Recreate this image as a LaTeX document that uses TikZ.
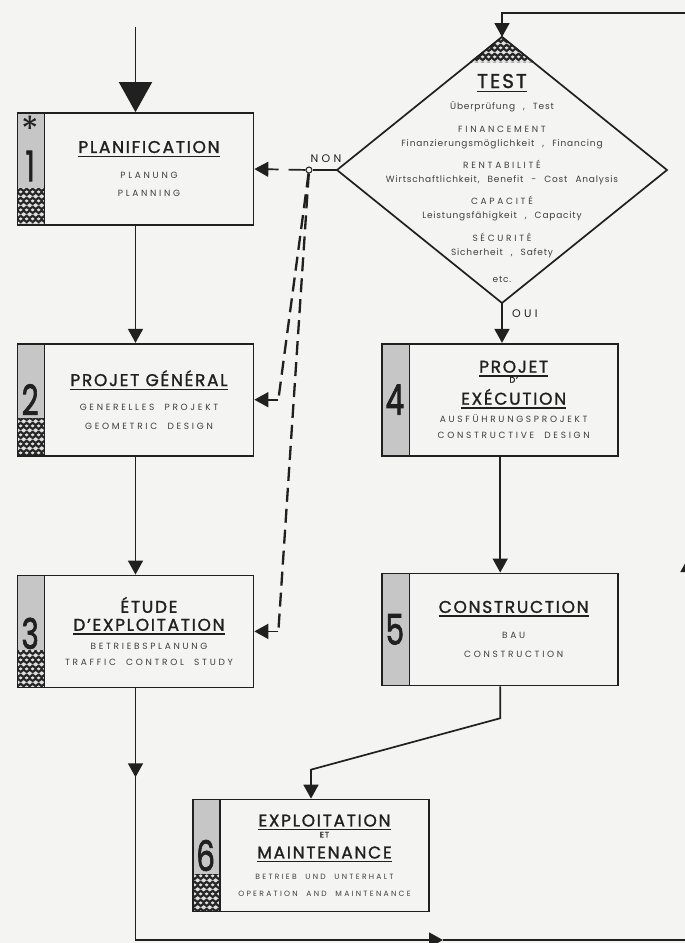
\documentclass[tikz,border=0pt]{standalone}
\usepackage{fontspec}
\setmainfont{Poppins}
\newfontfamily\ttlfont[FakeBold=1.4, LetterSpace=10]{Poppins}
\newfontfamily\numfont[FakeBold=2]{Poppins}
\newfontfamily\subfont[LetterSpace=30, WordSpace=2]{Poppins}
\newfontfamily\lowfont[LetterSpace=9, WordSpace=2.5]{Poppins}
\usetikzlibrary{shapes.geometric,arrows.meta,positioning,calc,patterns.meta}
\definecolor{paper}{RGB}{244,244,242}
\definecolor{ink}{RGB}{32,32,32}
\definecolor{strip}{RGB}{198,198,198}
\definecolor{subink}{RGB}{62,62,62}

\newcommand{\ttl}[1]{\vtop{\hbox{#1}\kern2.5pt\hrule height 1.3pt}}
\newcommand{\sub}{\subfont\fontsize{9}{18}\selectfont\color{subink}}
\newcommand{\subsm}{\subfont\fontsize{7.6}{18}\selectfont\color{subink}}
\newcommand{\low}{\lowfont\fontsize{9}{14}\selectfont\color{subink}}

\tikzdeclarepattern{
  name=honey,
  type=colored,
  bottom left={(0pt,0pt)},
  top right={(6pt,9pt)},
  tile size={(6pt,9pt)},
  code={
    \fill[black!85] (0pt,0pt) rectangle (6pt,9pt);
    \fill[black!12] (3pt,4.5pt) ellipse [x radius=2.2pt, y radius=1.7pt];
    \fill[black!12] (0pt,0pt) ellipse [x radius=2.2pt, y radius=1.7pt];
    \fill[black!12] (6pt,0pt) ellipse [x radius=2.2pt, y radius=1.7pt];
    \fill[black!12] (0pt,9pt) ellipse [x radius=2.2pt, y radius=1.7pt];
    \fill[black!12] (6pt,9pt) ellipse [x radius=2.2pt, y radius=1.7pt];
  }
}

\begin{document}
\begin{tikzpicture}[x=1pt, y=-1pt,
    stagebase/.style={draw=ink, line width=1.7pt, minimum width=236pt, minimum height=112pt, inner sep=0pt},
    stagebox/.style={stagebase, path picture={
        \fill[strip] (path picture bounding box.north west) rectangle ([xshift=27pt]path picture bounding box.south west);
        \fill[pattern=honey] ([yshift=37pt]path picture bounding box.south west) rectangle ([xshift=27pt]path picture bounding box.south west);
        \draw[ink, line width=1.2pt] ([xshift=27pt]path picture bounding box.north west) -- ([xshift=27pt]path picture bounding box.south west);}},
    stageplain/.style={stagebase, path picture={
        \fill[strip] (path picture bounding box.north west) rectangle ([xshift=27pt]path picture bounding box.south west);
        \draw[ink, line width=1.2pt] ([xshift=27pt]path picture bounding box.north west) -- ([xshift=27pt]path picture bounding box.south west);}},
    title/.style={align=center, text=ink, font=\ttlfont\fontsize{17}{18}\selectfont, inner sep=0pt},
    num/.style={text=ink, font=\numfont\fontsize{42}{42}\selectfont, inner sep=0pt},
    lbl/.style={text=ink, font=\subfont\fontsize{11}{12}\selectfont, inner sep=0pt},
    flow/.style={draw=ink, line width=1.7pt, -{Triangle[width=15pt,length=14pt]}},
    bigflow/.style={flow, -{Triangle[width=33pt,length=30pt]}},
    dashline/.style={draw=ink, line width=2.3pt, dash pattern=on 14pt off 7pt},
  ]
  \fill[paper] (0,0) rectangle (685,943);
  \useasboundingbox (0,0) rectangle (685,943);

  % stages
  \node[stagebox] (plan) at (135.5,169) {};
  \node[stagebox, below=117pt of plan] (projgen) {};
  \node[stagebox, below=118pt of projgen] (etude) {};
  \node[stageplain, right=127pt of projgen] (projexe) {};
  \node[stageplain, below=116pt of projexe] (constr) {};
  \node[stagebox] (exploit) at (311,855.5) {};
  \node[diamond, draw=ink, line width=1.7pt, minimum width=330pt, minimum height=266pt, inner sep=0pt, outer sep=0pt] (test) at (502,170) {};

  % hatched tip of the test
  \fill[pattern=honey] (test.north) -- ($(test.north)!0.19!(test.west)$) -- ($(test.north)!0.19!(test.east)$) -- cycle;
  \draw[ink, line width=1.7pt] ($(test.north)!0.19!(test.west)$) -- (test.north) -- ($(test.north)!0.19!(test.east)$);

  % numbers
  \node[num, font=\fontsize{36}{36}\selectfont, anchor=north] (star) at ([xshift=13.5pt,yshift=-4pt]plan.north west) {*};
  \node[num] (n1) at ([xshift=13.5pt,yshift=3pt]plan.west) {\scalebox{0.7}[1]{1}};
  \node[num] (n2) at ([xshift=13.5pt]projgen.west) {\scalebox{0.7}[1]{2}};
  \node[num] (n3) at ([xshift=13.5pt,yshift=-2pt]etude.west) {\scalebox{0.7}[1]{3}};
  \node[num] (n4) at ([xshift=13.5pt]projexe.west) {\scalebox{0.7}[1]{4}};
  \node[num] (n5) at ([xshift=13.5pt]constr.west) {\scalebox{0.7}[1]{5}};
  \node[num] (n6) at ([xshift=13.5pt]exploit.west) {\scalebox{0.7}[1]{6}};

  % texts
  \node[title] (plantxt) at ([xshift=13.5pt]plan.center) {\ttl{PLANIFICATION}\\[8pt]\sub PLANUNG\\\sub PLANNING};
  \node[title] (projgentxt) at ([xshift=13.5pt]projgen.center) {\ttl{PROJET GÉNÉRAL}\\[6pt]\sub GENERELLES PROJEKT\\[1pt]\sub GEOMETRIC DESIGN};
  \node[title] (etudetxt) at ([xshift=13.5pt]etude.center) {ÉTUDE\\\ttl{D’EXPLOITATION}\\[1pt]\sub BETRIEBSPLANUNG\\[-2pt]\sub TRAFFIC CONTROL STUDY};
  \node[title] (projexetxt) at ([xshift=13.5pt]projexe.center) {\ttl{PROJET}\\[-8pt]\fontsize{8}{8}\selectfont D’\\[4pt]\ttl{EXÉCUTION}\\\sub AUSFÜHRUNGSPROJEKT\\[-2pt]\sub CONSTRUCTIVE DESIGN};
  \node[title] (constrtxt) at ([xshift=13.5pt]constr.center) {\ttl{CONSTRUCTION}\\[8pt]\sub BAU\\[1pt]\sub CONSTRUCTION};
  \node[title] (exploittxt) at ([xshift=13.5pt]exploit.center) {\ttl{EXPLOITATION}\\[-7pt]\fontsize{8}{8}\selectfont ET\\[3pt]\ttl{MAINTENANCE}\\[3pt]\subsm BETRIEB UND UNTERHALT\\[-1pt]\subsm OPERATION AND MAINTENANCE};
  \node[align=center, text=ink, font=\fontsize{9}{14}\selectfont, inner sep=0pt] (testtxt) at ([yshift=-8pt]test.center) {\ttlfont\fontsize{20}{22}\selectfont\ttl{TEST}\\[7pt]\low Überprüfung , Test\\[9pt]\sub FINANCEMENT\\\low Finanzierungsmöglichkeit , Financing\\[8pt]\sub RENTABILITÉ\\\low Wirtschaftlichkeit, Benefit - Cost Analysis\\[8pt]\sub CAPACITÉ\\\low Leistungsfähigkeit , Capacity\\[9pt]\sub SÉCURITÉ\\\low Sicherheit , Safety\\[13pt]\low etc.};

  % decision
  \node[circle, draw=ink, fill=paper, line width=1pt, minimum size=6pt, inner sep=0pt] (nonpt) at ([xshift=-28pt]test.west) {};
  \node[lbl, above right=5pt and -1pt of nonpt] (non) {NON};
  \node[lbl, below right=7pt and 10pt of test.south] (oui) {OUI};

  \draw[ink, line width=1.7pt] (test.west) -- (nonpt);
  \draw[flow, dash pattern=on 17pt off 10pt on 60pt] (nonpt) -- (plan.east);
  \coordinate (k2) at ([xshift=24pt]projgen.east);
  \coordinate (k3) at ([xshift=24pt]etude.east);
  \draw[dashline] (nonpt) -- (k2);
  \draw[dashline] (nonpt) -- (k3);
  \draw[flow] (k2) -- (projgen.east);
  \draw[flow] (k3) -- (etude.east);

  % main flow
  \coordinate (entry) at ([yshift=85pt]plan.north);
  \draw[bigflow] (entry) -- (plan.north);
  \draw[flow] (plan.south) -- (projgen.north);
  \draw[flow] (projgen.south) -- (etude.north);
  \draw[flow] (test.south) -- (test.south |- projexe.north);
  \draw[flow] (projexe.south) -- (constr.north);
  \coordinate (k5) at ([yshift=-32pt]constr.south);
  \coordinate (k6) at ([yshift=29pt]exploit.north);
  \draw[flow] (constr.south) -- (k5) -- (k6) -- (exploit.north);

  % loop back to the test
  \coordinate (d1) at ([yshift=-89pt]etude.south);
  \coordinate (d3) at (443,940);
  \coordinate (d2) at (d1 |- d3);
  \coordinate (d4) at (688,940);
  \coordinate (d5) at (688,558);
  \coordinate (d6) at (688,13);
  \coordinate (d7) at (test.north |- d6);
  \draw[flow] (etude.south) -- (d1);
  \draw[flow] (d1) -- (d2) -- (d3);
  \draw[flow] (d3) -- (d4) -- (d5);
  \draw[flow] (d5) -- (d6) -- (d7) -- (test.north);
\end{tikzpicture}
\end{document}
